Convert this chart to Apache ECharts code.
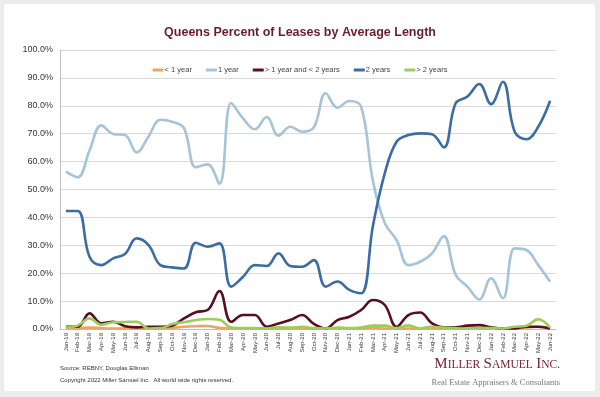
<!DOCTYPE html>
<html>
<head>
<meta charset="utf-8">
<script src="https://cdn.jsdelivr.net/npm/echarts@6/dist/echarts.min.js"></script>
<style>
    html, body { margin: 0; padding: 0; background: #ececec; }
    #card { position: absolute; left: 4px; top: 4px; width: 591px; height: 387px; background: #fff; border-radius: 3px; }
    #chart { position: absolute; left: -4px; top: -4px; width: 600px; height: 397px; }
</style>
</head>
<body>
<div id="card"><div id="chart"></div></div>
<script>
    // months Jan-19 .. Jun-22
    var months = ['Jan-19', 'Feb-19', 'Mar-19', 'Apr-19', 'May-19', 'Jun-19', 'Jul-19', 'Aug-19', 'Sep-19', 'Oct-19', 'Nov-19', 'Dec-19',
        'Jan-20', 'Feb-20', 'Mar-20', 'Apr-20', 'May-20', 'Jun-20', 'Jul-20', 'Aug-20', 'Sep-20', 'Oct-20', 'Nov-20', 'Dec-20',
        'Jan-21', 'Feb-21', 'Mar-21', 'Apr-21', 'May-21', 'Jun-21', 'Jul-21', 'Aug-21', 'Sep-21', 'Oct-21', 'Nov-21', 'Dec-21',
        'Jan-22', 'Feb-22', 'Mar-22', 'Apr-22', 'May-22', 'Jun-22']

    var lessOne = [0.2, 0.3, 0.5, 0.3, 0.2, 0.2, 0.2, 0.1, 0.1, 0.4, 0.8, 1.0,
        1.1, 0.4, 0.2, 0.2, 0.1, 0.1, 0.2, 0.2, 0.2, 0.1, 0.1, 0.2,
        0.2, 0.2, 0.3, 0.2, 0.1, 0.2, 0.1, 0.2, 0.1, 0.1, 0.1, 0.2,
        0.1, 0.1, 0.3, 0.5, 0.8, 0.3]
    var oneYear = [56.4, 54.4, 64, 73, 69.9, 69.5, 63.3, 69, 75, 74.3, 72, 58,
        59, 52, 81, 75.5, 71.6, 76, 69.3, 72.5, 70.7, 72.3, 84.5, 79.3,
        81.7, 79.7, 53, 38, 31.9, 22.9, 24.1, 27.1, 33.3, 19.4, 15.2, 10.6,
        18.2, 11, 28.9, 28.3, 22.9, 17]
    var oneToTwo = [0.8, 0.8, 5.6, 2, 2.6, 1, 0.6, 0.8, 0.8, 1.2, 3.8, 6,
        6.8, 13.6, 2.6, 5, 5, 0.8, 2, 3.2, 5, 1.8, 0.2, 3.2,
        4.4, 6.8, 10.4, 8.6, 0.8, 5, 5.9, 2, 0.6, 0.6, 1.2, 1.4,
        0.6, 0.2, 0.2, 0.8, 0.8, 0.2]
    var twoYears = [42.3, 42.3, 25.9, 22.9, 25.3, 26.9, 32.5, 30.1, 22.9, 22.1, 21.7, 30.9,
        29.5, 30.7, 15.2, 18.7, 22.9, 22.6, 27.1, 22.6, 22.3, 24.7, 15.2, 17,
        14, 12.8, 37, 55.8, 67.1, 69.5, 70.1, 69.8, 65.1, 80.9, 83.3, 87.8,
        80.6, 88.6, 70.7, 68, 72.5, 81.8]
    var overTwo = [0.5, 1.2, 3.8, 1.5, 2.4, 2.5, 2.6, 0.2, 0.3, 1.8, 2.4, 3.2,
        3.6, 3.3, 0.5, 0.3, 0.3, 0.2, 0.6, 0.5, 0.8, 0.3, 0.2, 0.5,
        0.3, 0.5, 1.2, 1.2, 0.3, 1.3, 0.2, 0.8, 0.5, 0.3, 0.2, 0.3,
        0.3, 0.2, 0.8, 1.2, 3.5, 0.5]

    function line(name, data, color) {
        return {
            name: name,
            type: 'line',
            data: data,
            smooth: 0.4,
            symbol: 'none',
            lineStyle: { color: color, width: 2.6 },
            itemStyle: { color: color }
        }
    }

    var myChart = echarts.init(document.getElementById('chart'))
    myChart.setOption({
        animation: false,
        backgroundColor: 'transparent',
        textStyle: { fontFamily: 'Liberation Sans, Arial, sans-serif' },
        title: {
            text: 'Queens Percent of Leases by Average Length',
            left: 'center',
            top: 21,
            textStyle: { color: '#6b1d2c', fontSize: 12.5, fontWeight: 'bold' }
        },
        legend: {
            top: 61,
            left: 'center',
            itemWidth: 11,
            itemHeight: 3,
            itemGap: 14,
            icon: 'rect',
            textStyle: { fontSize: 7.5, color: '#444', padding: [0, 0, 0, -4] },
            data: ['< 1 year', '1 year', '> 1 year and < 2 years', '2 years', '> 2 years']
        },
        grid: { left: 60, right: 44, top: 50, bottom: 68 },
        xAxis: {
            type: 'category',
            data: months,
            boundaryGap: true,
            axisLine: { lineStyle: { color: '#bfbfbf' } },
            axisTick: { show: false },
            axisLabel: { rotate: 90, fontSize: 6, color: '#333', interval: 0, margin: 4 }
        },
        yAxis: {
            type: 'value',
            min: 0,
            max: 100,
            interval: 10,
            axisLine: { show: true, lineStyle: { color: '#bfbfbf' } },
            axisTick: { show: false },
            splitLine: { lineStyle: { color: '#d9d9d9', width: 1 } },
            axisLabel: {
                fontSize: 9,
                color: '#333',
                margin: 7,
                formatter: function (v) { return v.toFixed(1) + '%' }
            }
        },
        series: [
            line('< 1 year', lessOne, '#eba564'),
            line('1 year', oneYear, '#a7c3da'),
            line('> 1 year and < 2 years', oneToTwo, '#5b0e1f'),
            line('2 years', twoYears, '#3b6ca3'),
            line('> 2 years', overTwo, '#9ccd58')
        ],
        graphic: [
            {
                type: 'text', left: 60, top: 365,
                style: { text: 'Source: REBNY, Douglas Elliman', fontSize: 6, fill: '#333', fontFamily: 'Liberation Sans, Arial' }
            },
            {
                type: 'text', left: 60, top: 377,
                style: { text: 'Copyright 2022 Miller Samuel Inc.  All world wide rights reserved.', fontSize: 6, fill: '#333', fontFamily: 'Liberation Sans, Arial' }
            },
            {
                type: 'text', right: 40, top: 357,
                style: {
                    text: '{a|M}{b|ILLER} {a|S}{b|AMUEL} {a|I}{b|NC.}',
                    rich: {
                        a: { fontSize: 15, fill: '#7a2230', fontFamily: 'Liberation Serif, Times New Roman, serif' },
                        b: { fontSize: 11.5, fill: '#7a2230', fontFamily: 'Liberation Serif, Times New Roman, serif' }
                    }
                }
            },
            {
                type: 'text', right: 40, top: 378,
                style: { text: 'Real Estate Appraisers & Consultants', fontSize: 8.5, fill: '#777', fontFamily: 'Liberation Serif, Times New Roman, serif' }
            }
        ]
    })
</script>
</body>
</html>
